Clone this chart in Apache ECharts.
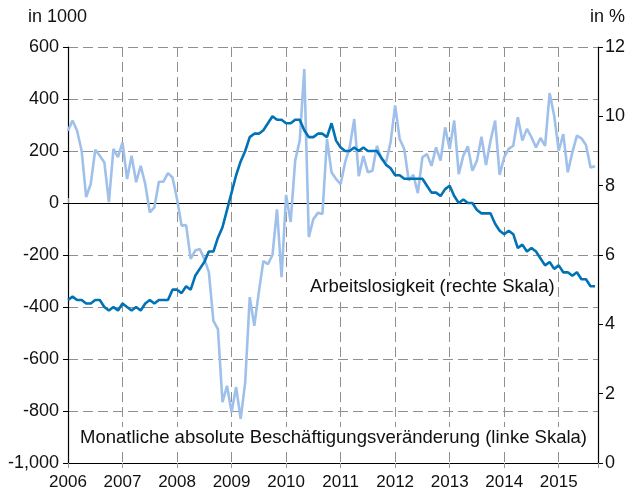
<!DOCTYPE html>
<html>
<head>
<meta charset="utf-8">
<script src="https://cdn.jsdelivr.net/npm/echarts@6/dist/echarts.min.js"></script>
<style>
html,body{margin:0;padding:0;background:#fff;}
#c{width:628px;height:491px;}
</style>
</head>
<body>
<div id="c"></div>
<script>
// Monthly absolute change in employment (in 1000), Jan 2006 - Sep 2015
var emp2006 = [278, 317, 278, 201, 23, 73, 205, 182, 156, 3, 208, 176];
var emp2007 = [233, 92, 182, 80, 143, 73, -36, -17, 82, 82, 115, 98];
var emp2008 = [15, -87, -85, -215, -183, -177, -215, -266, -453, -485, -766, -703];
var emp2009 = [-805, -708, -830, -690, -362, -472, -343, -223, -235, -200, -25, -285];
var emp2010 = [31, -73, 163, 240, 515, -131, -62, -38, -42, 246, 118, 92];
var emp2011 = [73, 157, 215, 323, 103, 181, 118, 124, 220, 169, 157, 234];
var emp2012 = [375, 246, 208, 86, 108, 38, 176, 188, 143, 214, 163, 291];
var emp2013 = [208, 317, 111, 182, 218, 124, 163, 255, 146, 240, 317, 108];
var emp2014 = [176, 208, 220, 330, 240, 285, 253, 214, 250, 220, 423, 336];
var emp2015 = [201, 265, 118, 195, 259, 249, 223, 137, 141];

// Unemployment rate (in %), Jan 2006 - Sep 2015
var ur2006 = [4.7, 4.8, 4.7, 4.7, 4.6, 4.6, 4.7, 4.7, 4.5, 4.4, 4.5, 4.4];
var ur2007 = [4.6, 4.5, 4.4, 4.5, 4.4, 4.6, 4.7, 4.6, 4.7, 4.7, 4.7, 5.0];
var ur2008 = [5.0, 4.9, 5.1, 5.0, 5.4, 5.6, 5.8, 6.1, 6.1, 6.5, 6.8, 7.3];
var ur2009 = [7.8, 8.3, 8.7, 9.0, 9.4, 9.5, 9.5, 9.6, 9.8, 10.0, 9.9, 9.9];
var ur2010 = [9.8, 9.8, 9.9, 9.9, 9.6, 9.4, 9.4, 9.5, 9.5, 9.4, 9.8, 9.3];
var ur2011 = [9.1, 9.0, 9.0, 9.1, 9.0, 9.1, 9.0, 9.0, 9.0, 8.8, 8.6, 8.5];
var ur2012 = [8.3, 8.3, 8.2, 8.2, 8.2, 8.2, 8.2, 8.0, 7.8, 7.8, 7.7, 7.9];
var ur2013 = [8.0, 7.7, 7.5, 7.6, 7.5, 7.5, 7.3, 7.2, 7.2, 7.2, 6.9, 6.7];
var ur2014 = [6.6, 6.7, 6.6, 6.2, 6.3, 6.1, 6.2, 6.1, 5.9, 5.7, 5.8, 5.6];
var ur2015 = [5.7, 5.5, 5.5, 5.4, 5.5, 5.3, 5.3, 5.1, 5.1];

var startYear = 2006;
var xMin = 2006, xMax = 2015.72;
var leftTicks = {min: -1000, max: 600, interval: 200};
var rightTicks = {min: 0, max: 12, interval: 2};
var labelEmp = 'Monatliche absolute Beschäftigungsveränderung (linke Skala)';
var labelUr = 'Arbeitslosigkeit (rechte Skala)';
var unitLeft = 'in 1000';
var unitRight = 'in %';

var empAll = [].concat(emp2006, emp2007, emp2008, emp2009, emp2010, emp2011, emp2012, emp2013, emp2014, emp2015);
var urAll = [].concat(ur2006, ur2007, ur2008, ur2009, ur2010, ur2011, ur2012, ur2013, ur2014, ur2015);
function toPairs(arr){ return arr.map(function(v,i){ return [startYear + i/12, v]; }); }

var FONT = '"Liberation Sans", Arial, Helvetica, sans-serif';
var chart = echarts.init(document.getElementById('c'), null, {renderer:'canvas'});
var gridDash = {color:'#8f8f8f', type:[10,5], width:1};
chart.setOption({
  animation:false,
  backgroundColor:'#fff',
  grid:{left:68, right:29, top:47, bottom:27, containLabel:false},
  xAxis:[{
    type:'value', min:xMin, max:xMax, interval:1, position:'bottom',
    axisLine:{show:true, lineStyle:{color:'#000', width:1.2}},
    axisTick:{show:true, inside:true, length:5, lineStyle:{color:'#999'}},
    axisLabel:{show:true, fontSize:17, color:'#111', fontFamily:FONT, margin:11,
      showMaxLabel:false, formatter:function(v){ return String(Math.round(v)); }},
    splitLine:{show:true, lineStyle:gridDash}
  },{
    type:'value', min:xMin, max:xMax, interval:1, position:'top',
    axisLine:{show:true, lineStyle:{color:'#000', width:1.2}},
    axisTick:{show:true, inside:true, length:5, lineStyle:{color:'#999'}},
    axisLabel:{show:false}, splitLine:{show:false}
  }],
  yAxis:[{
    type:'value', min:leftTicks.min, max:leftTicks.max, interval:leftTicks.interval, position:'left',
    axisLine:{show:true, lineStyle:{color:'#000', width:1.2}},
    axisTick:{show:true, inside:false, length:5, lineStyle:{color:'#000'}},
    axisLabel:{fontSize:18, color:'#111', fontFamily:FONT, margin:9},
    splitLine:{show:true, lineStyle:gridDash}
  },{
    type:'value', min:rightTicks.min, max:rightTicks.max, interval:rightTicks.interval, position:'right',
    axisLine:{show:true, lineStyle:{color:'#000', width:1.2}},
    axisTick:{show:true, inside:false, length:5, lineStyle:{color:'#000'}},
    axisLabel:{fontSize:18, color:'#111', fontFamily:FONT, margin:7},
    splitLine:{show:false}
  }],
  series:[{
    name:labelEmp, type:'line', xAxisIndex:0, yAxisIndex:0, data:toPairs(empAll),
    showSymbol:false, symbol:'none', z:3,
    lineStyle:{color:'#9fc0ea', width:2.6},
    markLine:{silent:true, symbol:'none', label:{show:false}, z:2,
      lineStyle:{color:'#000', type:'solid', width:1.2},
      data:[{yAxis:0}]}
  },{
    name:labelUr, type:'line', xAxisIndex:0, yAxisIndex:1, data:toPairs(urAll),
    showSymbol:false, symbol:'none', z:4,
    lineStyle:{color:'#0072b5', width:2.6}
  }],
  graphic:[
    {type:'text', left:28, top:8, style:{text:unitLeft, fill:'#111', font:'18px '+FONT}},
    {type:'text', right:3, top:8, style:{text:unitRight, fill:'#111', font:'18px '+FONT}},
    {type:'text', left:307, top:276, z:10, style:{text:labelUr, font:'18.5px '+FONT, fill:'#111',
      backgroundColor:'#fff', padding:[1,3,1,3]}},
    {type:'text', left:77, top:427, z:10, style:{text:labelEmp, font:'18.5px '+FONT, fill:'#111',
      backgroundColor:'#fff', padding:[1,3,1,3]}}
  ]
});
</script>
</body>
</html>
